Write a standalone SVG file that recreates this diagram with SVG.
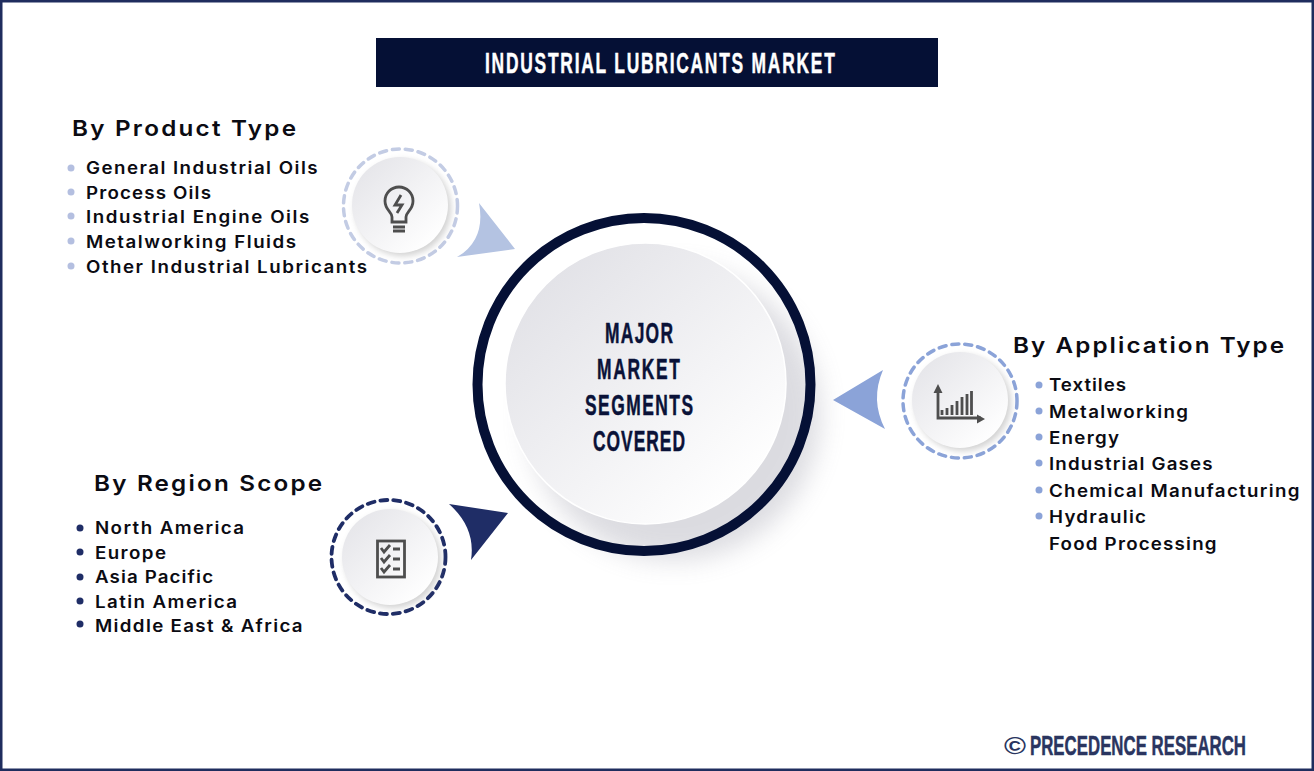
<svg xmlns="http://www.w3.org/2000/svg" width="1314" height="771" viewBox="0 0 1314 771">
<style>
.h{font-family:"Inter","Liberation Sans",sans-serif;font-weight:600;font-size:22px;fill:#0b0b12}
.l{font-family:"Inter","Liberation Sans",sans-serif;font-weight:600;font-size:17px;fill:#0b0b12}
.c{font-family:"Liberation Sans Narrow","Liberation Sans",sans-serif;font-weight:700;font-size:29px;fill:#0a1238;stroke:#0a1238;stroke-width:.5}
.t{font-family:"Liberation Sans Narrow","Liberation Sans",sans-serif;font-weight:700;font-size:29px;fill:#fff;stroke:#fff;stroke-width:.5}
.b{font-family:"Liberation Sans Narrow","Liberation Sans",sans-serif;font-weight:700;font-size:28px;fill:#2a3560;stroke:#2a3560;stroke-width:.5}
.ic{fill:none;stroke:#4e4e4e;stroke-width:2.800}
.disc{fill:url(#dg)}
.sd{fill:url(#dgs)}
</style>
<defs>
<linearGradient id="dg" x1="0.12" y1="0.12" x2="0.85" y2="0.9"><stop offset="0" stop-color="#e2e2e7"/><stop offset="1" stop-color="#ffffff"/></linearGradient>
<linearGradient id="dgs" x1="0.12" y1="0.12" x2="0.85" y2="0.9"><stop offset="0" stop-color="#e6e6ea"/><stop offset="1" stop-color="#ffffff"/></linearGradient>
<filter id="bs" x="-30%" y="-30%" width="170%" height="170%"><feGaussianBlur stdDeviation="13"/></filter>
<filter id="ss" x="-30%" y="-30%" width="160%" height="160%"><feGaussianBlur stdDeviation="3"/></filter>
</defs>
<rect x="0" y="0" width="1314" height="771" fill="#fff"/>
<rect x="1" y="1" width="1312" height="769" fill="none" stroke="#1f2d5e" stroke-width="3"/>
<g id="title"><rect x="376" y="38" width="562" height="49" fill="#051035"/>
<text class="t" transform="translate(485 73) scale(.6 1)" textLength="583" lengthAdjust="spacing">INDUSTRIAL LUBRICANTS MARKET</text></g>
<g id="connectors">
<path d="M479 203L515 249L457 257Q486 240 479 203Z" fill="#b4c3e2"/>
<path d="M833 400L883 370Q870 400 885 429Z" fill="#8ba3d8"/>
<path d="M449 504L508 513L471 560Q476 528 449 504Z" fill="#1f2d66"/>
</g>
<g id="center">
<circle cx="674" cy="414" r="146" fill="#8c8c9c" opacity=".3" filter="url(#bs)"/>
<circle cx="644" cy="384.500" r="166.500" fill="none" stroke="#051035" stroke-width="10"/>
<circle cx="645.500" cy="383.500" r="140.500" class="disc" stroke="#fff" stroke-width="1.500"/>
<text class="c" transform="translate(605 343) scale(.6 1)" textLength="113.300" lengthAdjust="spacing">MAJOR</text>
<text class="c" transform="translate(597 379) scale(.6 1)" textLength="138.300" lengthAdjust="spacing">MARKET</text>
<text class="c" transform="translate(585 415) scale(.6 1)" textLength="180" lengthAdjust="spacing">SEGMENTS</text>
<text class="c" transform="translate(593 451) scale(.6 1)" textLength="153.300" lengthAdjust="spacing">COVERED</text>
</g>
<g id="product">
<circle cx="400.500" cy="206" r="57" fill="none" stroke="#c3cce4" stroke-width="3.500" stroke-dasharray="7 6" stroke-linecap="round"/>
<circle cx="403" cy="208" r="48" fill="#888" opacity=".38" filter="url(#ss)"/>
<circle cx="400" cy="205" r="48" class="sd"/>
<path class="ic" d="M392 222V217C392 212 385 210 385 201A14 14 0 0 1 413 201C413 210 406 212 406 217V222Z"/>
<path class="ic" d="M401 195L395 205H402L397 213M393 227H405M393 231H405"/>
<text class="h" transform="translate(72 136) scale(1.1 1)" textLength="203.600" lengthAdjust="spacing">By Product Type</text>
<g fill="#b4bfe0"><circle cx="71" cy="168" r="3.500"/><circle cx="71" cy="192" r="3.500"/><circle cx="71" cy="216" r="3.500"/><circle cx="71" cy="241" r="3.500"/><circle cx="71" cy="266" r="3.500"/></g>
<text class="l" transform="translate(86 174) scale(1.1 1)" textLength="210.500" lengthAdjust="spacing">General Industrial Oils</text>
<text class="l" transform="translate(86 199) scale(1.1 1)" textLength="113.600" lengthAdjust="spacing">Process Oils</text>
<text class="l" transform="translate(86 223) scale(1.1 1)" textLength="203" lengthAdjust="spacing">Industrial Engine Oils</text>
<text class="l" transform="translate(86 248) scale(1.1 1)" textLength="190.900" lengthAdjust="spacing">Metalworking Fluids</text>
<text class="l" transform="translate(86 273) scale(1.1 1)" textLength="255.500" lengthAdjust="spacing">Other Industrial Lubricants</text>
</g>
<g id="application">
<circle cx="960" cy="401" r="57" fill="none" stroke="#8ba3d8" stroke-width="3.500" stroke-dasharray="7 6" stroke-linecap="round"/>
<circle cx="963" cy="403" r="48" fill="#888" opacity=".38" filter="url(#ss)"/>
<circle cx="960" cy="400" r="48" class="sd"/>
<path class="ic" d="M938 390V418H981"/>
<path d="M938 384L933.500 393H942.500ZM985 419L977 414.500V423.500Z" fill="#4e4e4e"/>
<path class="ic" d="M942 415V410M947 415V408M952 415V405M957 415V401M962 415V397M967 415V394M971.500 415V391"/>
<text class="h" transform="translate(1013 353) scale(1.1 1)" textLength="246.400" lengthAdjust="spacing">By Application Type</text>
<g fill="#8ba3d8"><circle cx="1039" cy="385" r="3.500"/><circle cx="1039" cy="411" r="3.500"/><circle cx="1039" cy="437" r="3.500"/><circle cx="1039" cy="463" r="3.500"/><circle cx="1039" cy="490" r="3.500"/><circle cx="1039" cy="516" r="3.500"/></g>
<text class="l" transform="translate(1049 391) scale(1.1 1)" textLength="70" lengthAdjust="spacing">Textiles</text>
<text class="l" transform="translate(1049 418) scale(1.1 1)" textLength="126.400" lengthAdjust="spacing">Metalworking</text>
<text class="l" transform="translate(1049 444) scale(1.1 1)" textLength="63.600" lengthAdjust="spacing">Energy</text>
<text class="l" transform="translate(1049 470) scale(1.1 1)" textLength="148.700" lengthAdjust="spacing">Industrial Gases</text>
<text class="l" transform="translate(1049 497) scale(1.1 1)" textLength="227.700" lengthAdjust="spacing">Chemical Manufacturing</text>
<text class="l" transform="translate(1049 523) scale(1.1 1)" textLength="88.200" lengthAdjust="spacing">Hydraulic</text>
<text class="l" transform="translate(1049 550) scale(1.1 1)" textLength="152.300" lengthAdjust="spacing">Food Processing</text>
</g>
<g id="region">
<circle cx="388.500" cy="557" r="57" fill="none" stroke="#1f2d66" stroke-width="3.800" stroke-dasharray="7 6" stroke-linecap="round"/>
<circle cx="393" cy="560" r="48" fill="#888" opacity=".38" filter="url(#ss)"/>
<circle cx="390" cy="557" r="48" class="sd"/>
<rect class="ic" x="377.500" y="541" width="27" height="36"/>
<path class="ic" d="M381 548L384 552L390 545M381 558L384 562L390 555M381 568L384 572L390 565M393 549H400M393 559H400M393 569H400" stroke-width="2.200"/>
<text class="h" transform="translate(94 491) scale(1.1 1)" textLength="207.300" lengthAdjust="spacing">By Region Scope</text>
<g fill="#1f2d66"><circle cx="80" cy="528" r="3.500"/><circle cx="80" cy="552" r="3.500"/><circle cx="80" cy="577" r="3.500"/><circle cx="80" cy="601" r="3.500"/><circle cx="80" cy="624" r="3.500"/></g>
<text class="l" transform="translate(95 534) scale(1.1 1)" textLength="135.500" lengthAdjust="spacing">North America</text>
<text class="l" transform="translate(95 559) scale(1.1 1)" textLength="64.500" lengthAdjust="spacing">Europe</text>
<text class="l" transform="translate(95 583) scale(1.1 1)" textLength="107.300" lengthAdjust="spacing">Asia Pacific</text>
<text class="l" transform="translate(95 608) scale(1.1 1)" textLength="129.100" lengthAdjust="spacing">Latin America</text>
<text class="l" transform="translate(95 632) scale(1.1 1)" textLength="188.700" lengthAdjust="spacing">Middle East &amp; Africa</text>
</g>
<g id="brand">
<text x="1004" y="754" textLength="22" lengthAdjust="spacingAndGlyphs" style="font-family:'Liberation Sans',sans-serif;font-weight:700;font-size:24px;fill:#2a3560">©</text>
<text class="b" transform="translate(1030 755) scale(.6 1)" textLength="360" lengthAdjust="spacing">PRECEDENCE RESEARCH</text>
</g>
</svg>
